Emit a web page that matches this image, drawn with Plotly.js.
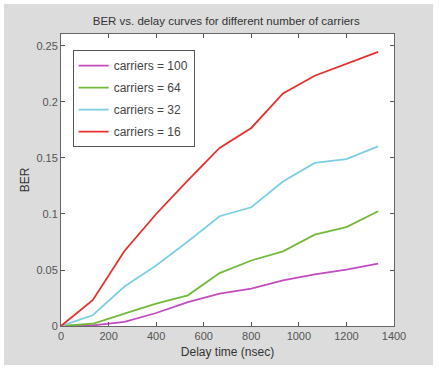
<!DOCTYPE html>
<html>
<head>
<meta charset="utf-8">
<script src="https://cdn.plot.ly/plotly-3.0.1.min.js"></script>
<style>
  html, body { margin: 0; padding: 0; background: #ffffff; }
  #chart { position: absolute; left: 4px; top: 4px; width: 429px; height: 361px; }
</style>
</head>
<body>
<div id="chart"></div>
<script>
// Delay time (nsec)
const delayTime = [0, 133.3, 266.7, 400, 533.3, 666.7, 800, 933.3, 1066.7, 1200, 1333.3];
// BER per number of carriers
const ber100 = [0, 0.0005, 0.0036, 0.0116, 0.0214, 0.0289, 0.0333, 0.0407, 0.046, 0.0503, 0.0556];
const ber64  = [0, 0.002, 0.011, 0.020, 0.0274, 0.0472, 0.0585, 0.0666, 0.0815, 0.0883, 0.1025];
const ber32  = [0, 0.0096, 0.0353, 0.054, 0.0755, 0.098, 0.106, 0.129, 0.1456, 0.149, 0.1604];
const ber16  = [0, 0.023, 0.067, 0.100, 0.130, 0.159, 0.1768, 0.2077, 0.2234, 0.2339, 0.2448];
const seriesNames = ['carriers = 100', 'carriers = 64', 'carriers = 32', 'carriers = 16'];
const seriesValues = [ber100, ber64, ber32, ber16];
const seriesColors = ['#c24cc0', '#72b93c', '#7ccfe2', '#e6302e'];
const xTicks = [0, 200, 400, 600, 800, 1000, 1200, 1400];
const yTicks = [0, 0.05, 0.1, 0.15, 0.2, 0.25];
const yTickText = ['0', '0.05', '0.1', '0.15', '0.2', '0.25'];

const traces = seriesValues.map((vals, i) => ({
  x: delayTime,
  y: vals,
  type: 'scatter',
  mode: 'lines',
  name: seriesNames[i],
  legendgroup: 'g' + i,
  line: { color: seriesColors[i], width: 1.8 }
}));

const fontFam = 'Liberation Sans, Arial, sans-serif';
const layout = {
  width: 429,
  height: 361,
  margin: { l: 57, r: 39, t: 30, b: 39 },
  paper_bgcolor: '#dcdcdc',
  plot_bgcolor: '#ffffff',
  font: { family: fontFam, size: 11, color: '#555555' },
  title: {
    text: 'BER vs. delay curves for different number of carriers',
    font: { family: fontFam, size: 11.5, color: '#333333' },
    x: 0.518, xanchor: 'center', y: 0.952, yanchor: 'middle'
  },
  xaxis: {
    range: [0, 1400],
    tickvals: xTicks,
    ticktext: xTicks.map(String),
    ticks: 'inside', ticklen: 4, tickcolor: '#555555',
    showline: true, linecolor: '#666666', linewidth: 1, mirror: 'ticks',
    showgrid: false, zeroline: false,
    tickfont: { family: fontFam, size: 11, color: '#555555' },
    title: { text: 'Delay time (nsec)', font: { family: fontFam, size: 12, color: '#333333' }, standoff: 6 }
  },
  yaxis: {
    range: [0, 0.2607],
    tickvals: yTicks,
    ticktext: yTickText,
    ticks: 'inside', ticklen: 4, tickcolor: '#555555',
    showline: true, linecolor: '#666666', linewidth: 1, mirror: 'ticks',
    showgrid: false, zeroline: false,
    tickfont: { family: fontFam, size: 11, color: '#555555' },
    title: { text: 'BER', font: { family: fontFam, size: 12, color: '#333333' }, standoff: 4 }
  },
  legend: {
    x: 0.035, y: 0.945, xanchor: 'left', yanchor: 'top',
    bgcolor: '#ffffff', bordercolor: '#555555', borderwidth: 1,
    font: { family: fontFam, size: 12, color: '#444444' },
    traceorder: 'grouped', tracegroupgap: 3,
    itemwidth: 30
  },
  showlegend: true
};

Plotly.newPlot('chart', traces, layout, { displayModeBar: false, staticPlot: true });
</script>
</body>
</html>
